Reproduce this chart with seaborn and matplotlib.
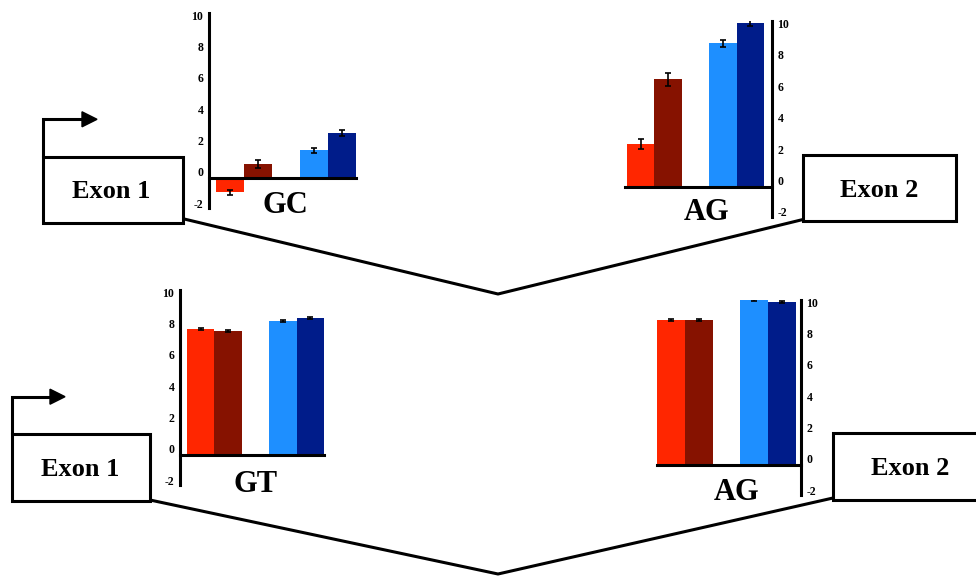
import numpy as np
import pandas as pd
import matplotlib
matplotlib.use("Agg")
import matplotlib.pyplot as plt
from matplotlib.patches import Rectangle, Polygon
import seaborn as sns

sns.set_theme(style="white")
plt.rcParams['font.family'] = ['Liberation Serif', 'DejaVu Serif']
plt.rcParams['font.weight'] = 'bold'
plt.rcParams['text.color'] = 'black'
plt.rcParams['axes.labelcolor'] = 'black'
plt.rcParams['xtick.color'] = 'black'
plt.rcParams['ytick.color'] = 'black'

# ---------------- data ----------------
bar_ids = ["A", "B", "C", "D"]
bar_pos = [0, 1, 3, 4]
bar_colors = ["#FF2600", "#861200", "#1E8FFF", "#001C8A"]

gc_vals = [-1.30, 0.49, 1.38, 2.47]
gc_errs = [0.16, 0.26, 0.16, 0.19]

ag_top_vals = [2.32, 6.44, 8.73, 10.0]
ag_top_errs = [0.29, 0.41, 0.22, 0.19]

gt_vals = [7.64, 7.51, 8.15, 8.34]
gt_errs = [0.05, 0.05, 0.05, 0.05]

ag_bot_vals = [8.85, 8.85, 10.13, 10.0]
ag_bot_errs = [0.05, 0.05, 0.05, 0.05]

y_ticks = [-2, 0, 2, 4, 6, 8, 10]
y_tick_labels = ["-2", "0", "2", "4", "6", "8", "10"]
axis_cross = -0.4          # value where the category axis crosses
y_min, y_max = -2.3, 10.13

site_labels = ["GC", "AG", "GT", "AG"]
exon_labels = ["Exon 1", "Exon 2"]

# ---------------- figure ----------------
W, H = 976, 577
fig = plt.figure(figsize=(W / 100, H / 100), dpi=100)

# overlay in pixel coordinates for the diagram
ov = fig.add_axes([0, 0, 1, 1])
ov.set_xlim(0, W)
ov.set_ylim(H, 0)
ov.axis("off")
ov.set_zorder(0)
ov.patch.set_alpha(0)

LW = 2.2


def px_axes(x0, x1, y0, y1):
    return fig.add_axes([x0 / W, 1 - y1 / H, (x1 - x0) / W, (y1 - y0) / H])


def bar_chart(ax, vals, errs, xlim, side):
    df = pd.DataFrame({"pos": bar_pos, "height": np.array(vals) - axis_cross,
                       "id": bar_ids})
    sns.barplot(data=df, x="pos", y="height", hue="id", hue_order=bar_ids,
                palette=dict(zip(bar_ids, bar_colors)), native_scale=True,
                width=1, dodge=False, saturation=1, errorbar=None,
                legend=False, linewidth=0, bottom=axis_cross, ax=ax)
    ax.errorbar(bar_pos, vals, yerr=errs, fmt="none", ecolor="black",
                elinewidth=1.2, capsize=2.5, capthick=1.2, zorder=5)
    ax.set_xlim(*xlim)
    ax.set_ylim(y_min, y_max)
    ax.set_xticks([])
    ax.set_xlabel("")
    ax.set_ylabel("")
    ax.set_yticks(y_ticks)
    ax.set_yticklabels(y_tick_labels, fontsize=8.5, fontweight="bold",
                       family=["Liberation Serif"], color="black")
    ax.patch.set_alpha(0)
    ax.set_zorder(1)
    for s in ["top", "left", "right", "bottom"]:
        ax.spines[s].set_visible(False)
    ax.spines["bottom"].set_visible(True)
    ax.spines["bottom"].set_position(("data", axis_cross))
    ax.spines["bottom"].set_linewidth(LW)
    ax.spines["bottom"].set_color("black")
    ax.spines[side].set_visible(True)
    ax.spines[side].set_linewidth(LW)
    ax.spines[side].set_color("black")
    if side == "right":
        ax.yaxis.tick_right()
    ax.tick_params(axis="y", length=0, pad=4, colors="black")
    ax.grid(False)


# four bar charts (pixel boxes derived from the reference)
ax1 = px_axes(209, 356, 13.0, 207.7)
bar_chart(ax1, gc_vals, gc_errs, (-0.75, 4.5), "left")

ax2 = px_axes(625, 772, 21.0, 216.7)
bar_chart(ax2, ag_top_vals, ag_top_errs, (-0.57, 4.79), "right")

ax3 = px_axes(180, 324, 290.0, 484.7)
bar_chart(ax3, gt_vals, gt_errs, (-0.755, 4.5), "left")

ax4 = px_axes(657, 801, 300.0, 494.7)
bar_chart(ax4, ag_bot_vals, ag_bot_errs, (-0.5, 4.68), "right")

# ---------------- diagram ----------------
def box(x0, y0, x1, y1):
    ov.add_patch(Rectangle((x0, y0), x1 - x0, y1 - y0, fill=True,
                           facecolor="white", edgecolor="black", lw=LW,
                           zorder=2, clip_on=False))


def arrow(x, ybot, ytop, xend, tip, hh):
    ov.plot([x, x, xend], [ybot, ytop, ytop], color="black", lw=LW,
            solid_joinstyle="miter", zorder=3)
    ov.add_patch(Polygon([[xend, ytop - hh], [xend, ytop + hh], [tip, ytop]],
                         closed=True, color="black", zorder=3))


TXT = dict(ha="center", va="baseline", fontweight="bold", color="black",
           zorder=4)

# top gene
ov.plot([180, 498, 805], [218, 294, 219], color="black", lw=LW, zorder=1)
box(43, 157, 183, 223)
box(803, 155, 956, 221)
arrow(43, 157, 119.3, 82, 97, 7.5)
ov.text(111, 197.7, exon_labels[0], fontsize=19, **TXT)
ov.text(879, 196.7, exon_labels[1], fontsize=19, **TXT)

# bottom gene
ov.plot([150, 498, 833], [500, 574, 498], color="black", lw=LW, zorder=1)
box(12, 434, 150, 501)
box(833, 433, 995, 500)
arrow(12, 434, 396.7, 50, 65, 7.5)
ov.text(80, 476, exon_labels[0], fontsize=19, **TXT)
ov.text(910, 475, exon_labels[1], fontsize=19, **TXT)

# splice-site labels
for lab, (cx, by) in zip(site_labels, [(285.5, 213), (707, 220),
                                       (256, 492), (737, 500)]):
    ov.text(cx, by, lab, fontsize=22, **TXT)

fig.savefig("out.png", dpi=100)
